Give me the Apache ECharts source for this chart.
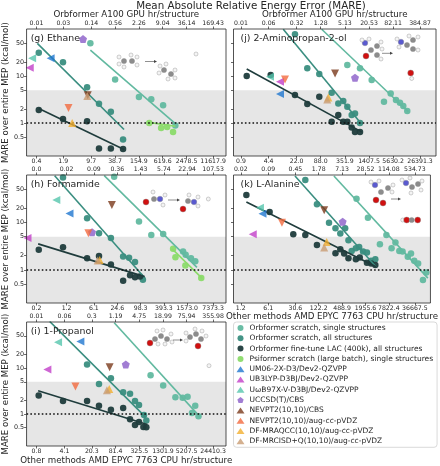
<!DOCTYPE html>
<html>
<head>
<meta charset="utf-8">
<script src="https://cdn.jsdelivr.net/npm/echarts@6/dist/echarts.min.js"></script>
<style>html,body{margin:0;padding:0;background:#fff}#chart{width:440px;height:466px}</style>
</head>
<body>
<div id="chart"></div>
<script>
// ================= DATA =================
const methodNames = [
  'Orbformer scratch, single structures',
  'Orbformer scratch, all structures',
  'Orbformer fine-tune LAC (400k), all structures',
  'Psiformer scratch (large batch), single structures',
  'UM06-2X-D3/Dev2-QZVPP',
  'UB3LYP-D3BJ/Dev2-QZVPP',
  'UωB97X-V-D3BJ/Dev2-QZVPP',
  'UCCSD(T)/CBS',
  'NEVPT2(10,10)/CBS',
  'NEVPT2(10,10)/aug-cc-pVDZ',
  'DF-MRAQCC(10,10)/aug-cc-pVDZ',
  'DF-MRCISD+Q(10,10)/aug-cc-pVDZ'
];
const yTickValues = [0.5, 1, 2, 5, 10, 20, 50];
const yRange = [0.2, 100];
const bandTop = 5;
const refLine = 1;

// (g) Ethane  — x: CPU hr/structure, y: MARE kcal/mol
const ethaneCpuTicks = ['0.4','1.9','9.7','38.7','154.9','619.6','2478.5','11617.9'];
const ethaneGpuTicks = ['0.01','0.03','0.14','0.56','2.26','9.04','36.14','169.43'];
const ethaneSingle = [[9.2,49.6],[38.8,8.5],[155,3.6],[318,3.2],[634,2.4],[1291,0.89]];
const ethaneAll = [[0.457,31.3],[1.87,19.6],[7.6,5.75],[15.2,2.57],[30.3,1.74],[61.6,0.45]];
const ethaneFine = [[0.457,1.89],[1.87,1.22],[7.6,1.10],[15.2,0.29],[30.3,0.29],[61.6,0.28]];
const ethanePsi = [[283,1.01],[565,0.79],[800,0.83],[1130,0.65]];
const ethaneSingleFit = [[9.2,35.7],[1291,0.98]];
const ethaneAllFit = [[0.42,49.6],[65.3,0.73]];
const ethaneFineFit = [[0.457,2.05],[65.3,0.275]];
const ethanePsiFit = [[252,1.05],[1291,0.86]];
// order: UM06-2X, UB3LYP, UωB97X-V, UCCSD(T), NEVPT2/CBS, NEVPT2/aug, MRAQCC, MRCISD+Q
const ethaneRef = [[0.91,23.8],[0.27,15.0],[0.31,23.8],[6.0,61],[7.9,3.9],[2.58,2.1],[3.19,1.0],[7.7,3.75]];

// (h) Formamide
const formamideCpuTicks = ['0.2','1.2','6.1','24.6','98.3','393.3','1573.0','7373.3'];
const formamideGpuTicks = ['0.0','0.02','0.09','0.36','1.43','5.74','22.94','107.53'];
const formamideSingle = [[20.4,92],[89.5,10.5],[186,5.46],[378,5.73],[1233,2.43],[1439,2.07],[1977,1.75],[2553,1.52]];
const formamideAll = [[0.97,89],[4.07,12.2],[8.28,5.9],[16.8,4.72],[34.8,1.91],[49.5,1.79],[70.6,1.47],[113,0.62]];
const formamideFine = [[0.229,2.64],[0.97,2.99],[4.07,1.75],[8.28,1.97],[16.8,1.29],[34.8,0.59],[52.6,0.77],[70.6,0.70],[94.8,0.72]];
const formamidePsi = [[682,2.77],[783,1.84],[1413,1.23],[3640,0.67]];
const formamideSingleFit = [[11.3,96.7],[2818,1.13]];
const formamideAllFit = [[0.59,96.7],[125,0.68]];
const formamideFineFit = [[0.221,3.53],[125,0.72]];
const formamidePsiFit = [[644,2.77],[3793,0.67]];
const formamideRef = [[1.43,15.5],[0.117,4.72],[0.65,29.8],[5.47,6.19],[17.8,23.4],[4.40,5.9],[8.6,1.62],[7.65,1.57]];

// (i) 1-Propanol
const propanolCpuTicks = ['0.8','4.1','20.3','81.4','325.5','1301.9','5207.5','24410.3'];
const propanolGpuTicks = ['0.01','0.06','0.3','1.19','4.75','18.99','75.94','355.98'];
const propanolSingle = [[631,6.95],[1318,4.14],[2692,2.31],[4111,2.25],[5495,2.36],[7093,1.05],[8590,1.50],[10400,0.89]];
const propanolAll = [[15.4,11.9],[30.9,4.5],[62.1,5.93],[127,2.95],[190,2.73],[254,1.91],[321,1.57],[429,0.95],[492,0.72]];
const propanolFine = [[0.91,2.51],[3.77,1.91],[15.4,1.91],[30.9,1.50],[62.1,1.23],[127,1.34],[190,0.76],[254,0.57],[321,0.67],[414,0.52],[492,0.51]];
const propanolSingleFit = [[75.2,96.7],[11480,0.85]];
const propanolAllFit = [[1.73,103],[472,0.85]];
const propanolFineFit = [[0.88,3.2],[521,0.59]];
const propanolRef = [[10.4,37.4],[1.51,9.2],[2.82,36.1],[148,11.9],[57.5,10.4],[7.8,3.94],[56.3,3.48],[49.2,3.25]];

// (j) 2-Aminopropan-2-ol
const aminoCpuTicks = ['0.9','4.4','22.0','88.0','351.9','1407.5','5630.2','26391.3'];
const aminoGpuTicks = ['0.01','0.06','0.32','1.28','5.13','20.53','82.11','384.87'];
const aminoSingle = [[405,17.1],[840,14.6],[1644,8.2],[3334,2.84],[4898,4.28],[6637,3.09],[8356,2.70],[10100,2.30],[12700,1.80]];
const aminoAll = [[20.0,77.1],[40.6,14.6],[80.9,11.0],[165,4.41],[241,2.62],[321,2.94],[405,2.22],[521,1.48],[630,1.61],[840,1.01]];
const aminoFine = [[1.25,10],[4.96,10.5],[20.0,3.94],[40.6,2.54],[80.9,3.63],[165,1.07],[241,1.48],[321,1.07],[405,1.07],[521,0.81],[630,0.65],[840,0.65]];
const aminoSingleFit = [[92.9,98.6],[13460,1.74]];
const aminoAllFit = [[10.2,98.6],[925,0.95]];
const aminoFineFit = [[1.25,14.1],[925,0.65]];
const aminoRef = [[8.45,4.14],[8.45,7.56],[4.76,9.7],[630,9.2],[200,11.4],[11.3,8.5],[136,3.52],[128,3.19]];

// (k) L-Alanine
const alanineCpuTicks = ['1.2','6.1','30.6','122.2','488.9','1955.6','7822.4','36667.5'];
const alanineGpuTicks = ['0.02','0.09','0.45','1.78','7.13','28.52','114.08','534.73'];
const alanineSingle = [[1151,31.7],[2265,12.6],[4603,3.48],[6776,5.46],[9204,2.86],[11590,3.76],[14590,2.51],[17660,2.43],[24100,1.88],[29170,2.20],[35300,1.55],[44500,1.36],[59300,0.61],[72300,0.88]];
const alanineAll = [[55.1,78.5],[110,24.2],[225,9.9],[330,7.55],[440,5.81],[586,7.55],[713,4.22],[863,2.51],[1107,2.86],[1346,3.05],[1695,2.43],[2136,2.31],[2735,1.55],[3508,1.68]];
const alanineFine = [[1.67,37.9],[6.65,16.6],[27.0,5.65],[55.1,5.46],[110,3.36],[330,2.25],[440,2.73],[553,2.20],[713,1.76],[1107,1.68],[1393,1.82],[2136,1.42],[2735,1.36],[3508,1.27]];
const alanineSingleFit = [[301,95.3],[79300,0.67]];
const alanineAllFit = [[29.9,95.3],[3656,1.16]];
const alanineFineFit = [[1.67,27.0],[3656,1.16]];
const alanineRef = [[4.35,15.3],[2.44,5.65],[3.74,20.5],[505,10.3],[169,18.1],[13.8,9.9],[196,3.88],[169,2.95]];

// ================= STYLE / LAYOUT =================
const FONT = 'DejaVu Sans';
const TXT = '#262626';
const COLORS = ['#62b9a0','#3a8e80','#1f3c3c','#8bdb6a','#1f77cf','#c23fc8','#55c5ac','#8a5cc8','#7a3a1c','#f26a3e','#f3af2f','#c99c73'];
const PENTAGON = 'path://M0,-1L0.951,-0.309L0.588,0.809L-0.588,0.809L-0.951,-0.309Z';
const SYMBOLS = ['circle','circle','circle','circle','triangle','triangle','triangle',PENTAGON,'triangle','triangle','triangle','triangle'];
const ROTS = [0,0,0,0,90,90,90,0,180,180,0,0];
const SIZES = [6.5,6.5,6.5,6.5,8,8,8,8,8,8,8,8];

const COLS = [
  {left:25, width:201, a:10, b:13},
  {left:233.5, width:202.5, a:7.5, b:16}
];
const ROWS = [
  {top:29, height:127},
  {top:175, height:128},
  {top:322, height:125}
];

const panels = [
  {title:'(g) Ethane', col:0, row:0, cpu:ethaneCpuTicks, gpu:ethaneGpuTicks,
   pts:[ethaneSingle, ethaneAll, ethaneFine, ethanePsi], fits:[ethaneSingleFit, ethaneAllFit, ethaneFineFit, ethanePsiFit], ref:ethaneRef,
   topName:true, bottomName:false},
  {title:'(h) Formamide', col:0, row:1, cpu:formamideCpuTicks, gpu:formamideGpuTicks,
   pts:[formamideSingle, formamideAll, formamideFine, formamidePsi], fits:[formamideSingleFit, formamideAllFit, formamideFineFit, formamidePsiFit], ref:formamideRef,
   topName:false, bottomName:false},
  {title:'(i) 1-Propanol', col:0, row:2, cpu:propanolCpuTicks, gpu:propanolGpuTicks,
   pts:[propanolSingle, propanolAll, propanolFine, null], fits:[propanolSingleFit, propanolAllFit, propanolFineFit, null], ref:propanolRef,
   topName:false, bottomName:true, nameGap:10},
  {title:'(j) 2-Aminopropan-2-ol', col:1, row:0, cpu:aminoCpuTicks, gpu:aminoGpuTicks,
   pts:[aminoSingle, aminoAll, aminoFine, null], fits:[aminoSingleFit, aminoAllFit, aminoFineFit, null], ref:aminoRef,
   topName:true, bottomName:false},
  {title:'(k) L-Alanine', col:1, row:1, cpu:alanineCpuTicks, gpu:alanineGpuTicks,
   pts:[alanineSingle, alanineAll, alanineFine, null], fits:[alanineSingleFit, alanineAllFit, alanineFineFit, null], ref:alanineRef,
   topName:false, bottomName:true, nameGap:8.5}
];

const L = Math.log10;
const toXY = arr => arr.map(p => [L(p[0]), L(p[1])]);
const yT = yTickValues.map(L);
const yFmt = v => { const r = Math.pow(10, v); return r < 1 ? r.toFixed(1) : String(Math.round(r)); };

const grids = [], xAxes = [], yAxes = [], series = [], graphics = [];

panels.forEach((p, i) => {
  const col = COLS[p.col], row = ROWS[p.row];
  grids.push({left:col.left, top:row.top, width:col.width, height:row.height, show:true, z:10,
    borderColor:TXT, borderWidth:0.8, backgroundColor:'rgba(0,0,0,0)'});
  const lt = p.cpu.map(s => L(Number(s)));
  const ppd = (col.width - col.a - col.b) / (lt[7] - lt[0]);
  const xmin = lt[0] - col.a / ppd, xmax = lt[7] + col.b / ppd;
  const nearest = v => { let b = 0; lt.forEach((t, k) => { if (Math.abs(t - v) < Math.abs(lt[b] - v)) b = k; }); return b; };
  const tickStyle = {show:true, customValues:lt, length:2.5, lineStyle:{color:TXT, width:0.7}};
  const lblStyle = {fontSize:6.2, fontFamily:FONT, color:TXT, margin:2.5};
  xAxes.push({gridIndex:i, type:'value', position:'bottom', min:xmin, max:xmax,
    axisLine:{show:false, onZero:false}, splitLine:{show:false}, axisTick:tickStyle,
    axisLabel:Object.assign({customValues:lt, formatter:v => p.cpu[nearest(v)]}, lblStyle),
    name:p.bottomName ? 'Other methods AMD EPYC 7763 CPU hr/structure' : '', nameLocation:'middle', nameGap:p.nameGap || 9,
    nameTextStyle:{fontSize:8.7, fontFamily:FONT, color:TXT}});
  xAxes.push({gridIndex:i, type:'value', position:'top', min:xmin, max:xmax,
    axisLine:{show:false, onZero:false}, splitLine:{show:false}, axisTick:tickStyle,
    axisLabel:Object.assign({customValues:lt, formatter:v => p.gpu[nearest(v)]}, lblStyle),
    name:p.topName ? 'Orbformer A100 GPU hr/structure' : '', nameLocation:'middle', nameGap:9,
    nameTextStyle:{fontSize:8.7, fontFamily:FONT, color:TXT}});
  yAxes.push({gridIndex:i, type:'value', position:'left', min:L(yRange[0]), max:L(yRange[1]),
    axisLine:{show:false, onZero:false}, splitLine:{show:false},
    axisTick:{show:true, customValues:yT, length:2.5, lineStyle:{color:TXT, width:0.7}},
    axisLabel:{show:p.col === 0, customValues:yT, formatter:yFmt, fontSize:6.4, fontFamily:FONT, color:TXT, margin:2.5},
    name:p.col === 0 ? 'MARE over entire MEP (kcal/mol)' : '', nameLocation:'middle', nameGap:16,
    nameTextStyle:{fontSize:8.6, fontFamily:FONT, color:TXT}});

  const base = {xAxisIndex:2 * i, yAxisIndex:i};
  series.push(Object.assign({type:'scatter', data:[[xmin, 0]], symbolSize:0, silent:true, z:1,
    markArea:{silent:true, itemStyle:{color:'#e6e6e6'},
      data:[[{xAxis:xmin, yAxis:L(yRange[0])}, {xAxis:xmax, yAxis:L(bandTop)}]]},
    markLine:{silent:true, symbol:['none','none'], label:{show:false},
      lineStyle:{color:'#111', type:[1.6, 2.2], width:1.6}, data:[{yAxis:L(refLine)}]}}, base));
  p.pts.forEach((g, k) => {
    if (!g) return;
    series.push(Object.assign({type:'scatter', name:methodNames[k], data:toXY(g), symbol:'circle',
      symbolSize:SIZES[k], itemStyle:{color:COLORS[k], opacity:0.95}, z:3}, base));
  });
  p.fits.forEach((f, k) => {
    if (!f) return;
    series.push(Object.assign({type:'line', name:'fit' + i + '_' + k, data:toXY(f), showSymbol:false, symbol:'none',
      lineStyle:{color:COLORS[k], width:1.6}, z:4, silent:true}, base));
  });
  p.ref.forEach((pt, k) => {
    const m = 4 + k;
    series.push(Object.assign({type:'scatter', name:methodNames[m], data:toXY([pt]), symbol:SYMBOLS[m],
      symbolRotate:ROTS[m], symbolSize:SIZES[m], itemStyle:{color:COLORS[m]}, z:5}, base));
  });

  graphics.push({type:'text', left:col.left + (p.col === 0 ? 5.7 : 7), top:row.top + 4.6, z:20,
    style:{text:p.title, fontSize:9.4, fontFamily:FONT, fill:TXT}});
});

graphics.push({type:'text', x:251, y:6.5, z:20,
  style:{text:'Mean Absolute Relative Energy Error (MARE)', fontSize:10.3, fontFamily:FONT, fill:TXT, align:'center', verticalAlign:'middle'}});

// ----- decorative molecule sketches -----
const ATOM = {C:['#8c8c8c', 2.6], H:['#f4f4f4', 2.0], O:['#d01010', 3.0], N:['#5a5ad0', 2.8]};
function mol(cx, cy, atoms) {
  atoms.forEach(a => {
    const s = ATOM[a[2]];
    graphics.push({type:'circle', z:15, shape:{cx:cx + a[0], cy:cy + a[1], r:s[1]},
      style:{fill:s[0], stroke:'#8a8a8a', lineWidth:0.4}});
  });
}
function arrow(x1, x2, y) {
  graphics.push({type:'line', z:15, shape:{x1:x1, y1:y, x2:x2 - 2, y2:y}, style:{stroke:'#444', lineWidth:0.6}});
  graphics.push({type:'polygon', z:15, shape:{points:[[x2, y], [x2 - 3, y - 1.5], [x2 - 3, y + 1.5]]}, style:{fill:'#444'}});
}
// ethane
mol(128, 61, [[-4,0,'C'],[4,0,'C'],[-9,-4,'H'],[-9,3,'H'],[-4,6,'H'],[9,-4,'H'],[9,4,'H'],[3,-6,'H']]);
arrow(145, 157, 61.5);
mol(167, 72, [[-3,-2,'C'],[4,2,'C'],[-7,-6,'H'],[-1,-8,'H'],[-8,1,'H'],[8,-2,'H'],[8,6,'H'],[1,7,'H']]);
mol(196, 54, [[0,0,'H']]);
// formamide
mol(154, 200, [[0,-1,'C'],[-8,2,'O'],[6,-1,'N'],[-1,-8,'H'],[11,-5,'H'],[9,5,'H']]);
arrow(168, 180, 200);
mol(188, 203, [[0,-2,'C'],[-5,6,'O'],[6,-1,'N'],[1,-8,'H'],[10,-6,'H'],[10,3,'H']]);
mol(208.3, 199, [[0,0,'H']]);
// 1-propanol
mol(160, 338, [[-5,1,'C'],[1,-2,'C'],[7,1,'C'],[-10,5,'O'],[-3,-7,'H'],[3,-8,'H'],[11,-4,'H'],[12,4,'H'],[-2,6,'H'],[5,6,'H']]);
arrow(173, 183, 340);
mol(195, 338, [[-5,-1,'C'],[1,-4,'C'],[6,1,'C'],[3,8,'O'],[-9,-5,'H'],[-9,3,'H'],[0,-9,'H'],[7,-7,'H'],[11,-2,'H']]);
mol(209, 365.7, [[0,0,'H']]);
// 2-aminopropan-2-ol
mol(371, 51, [[-6,-8,'N'],[0,-1,'C'],[6,-5,'C'],[6,4,'C'],[-5,5,'O'],[-9,-11,'H'],[-2,-12,'H'],[10,-9,'H'],[11,-2,'H'],[10,8,'H']]);
arrow(382, 393, 53.3);
mol(407, 44, [[-6,-2,'N'],[0,1,'C'],[6,-4,'C'],[6,5,'C'],[-10,-5,'H'],[-8,3,'H'],[11,-7,'H'],[2,-8,'H'],[11,6,'H']]);
mol(410.7, 73, [[0,0,'O'],[1,5.5,'H']]);
// L-alanine
mol(381, 192, [[-6,-7,'N'],[0,0,'C'],[7,-4,'C'],[-5,8,'O'],[2,11,'O'],[-10,-10,'H'],[-2,-11,'H'],[12,-7,'H'],[11,0,'H']]);
arrow(391, 401, 199);
mol(411, 187, [[-5,-4,'N'],[1,0,'C'],[7,-3,'C'],[-9,-7,'H'],[-1,-9,'H'],[11,-6,'H'],[10,3,'H'],[0,6,'H']]);
mol(410.7, 220, [[-8,0,'H'],[-4,0,'O'],[1,0,'C'],[7,0,'O']]);

const chart = echarts.init(document.getElementById('chart'), null, {renderer:'canvas'});
chart.setOption({
  animation:false,
  backgroundColor:'#ffffff',
  textStyle:{fontFamily:FONT},
  grid:grids,
  xAxis:xAxes,
  yAxis:yAxes,
  legend:{data:methodNames, orient:'vertical', left:233.5, top:322, itemWidth:8, itemHeight:6, itemGap:2.3,
    selectedMode:false, padding:[2,4,2,3], backgroundColor:'#ffffff', borderColor:'#cfcfcf', borderWidth:0.8, borderRadius:3,
    textStyle:{fontSize:7.5, fontFamily:FONT, color:TXT}},
  series:series,
  graphic:graphics
});
</script>
</body>
</html>
